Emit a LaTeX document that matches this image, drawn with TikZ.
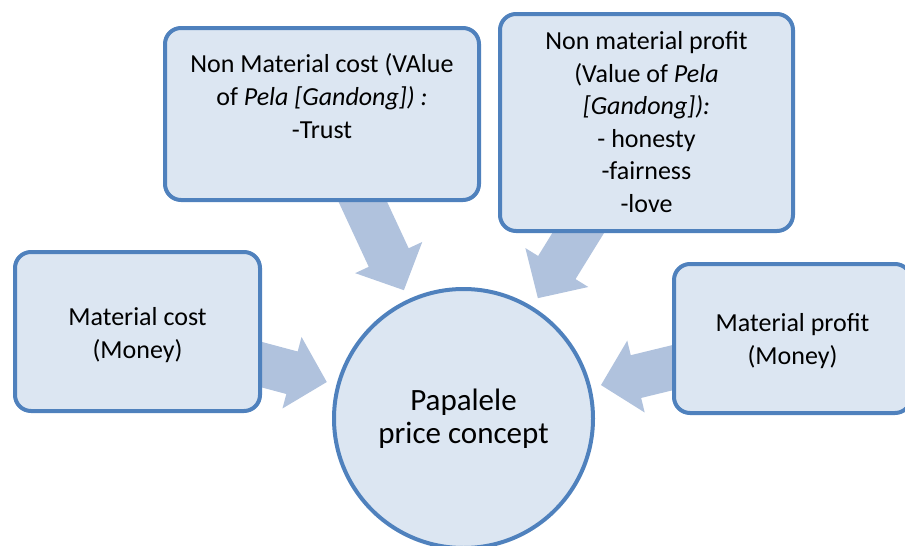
\documentclass[tikz,border=0pt]{standalone}
\usepackage{fontspec}
\setmainfont{Carlito}
\usetikzlibrary{calc,backgrounds}
\definecolor{boxfill}{HTML}{DCE6F2}
\definecolor{boxline}{HTML}{4F81BD}
\definecolor{arrowcol}{HTML}{B0C2DD}
\tikzset{
  box/.style={draw=boxline, fill=boxfill, line width=4pt, rounded corners=16pt, inner sep=0pt},
  hub/.style={circle, draw=boxline, fill=boxfill, line width=4pt, inner sep=0pt, minimum size=259pt,
    align=center, font=\fontsize{31}{33}\selectfont},
  boxtext/.style={align=center, font=\fontsize{26}{32.6}\selectfont, inner sep=0pt},
  arrowfill/.style={fill=arrowcol}
}
\newcommand\blockarrow[2]{%
  \coordinate (tip#1) at ($(#2.center)!141.5pt!(#1.center)$);
  \coordinate (base#1) at ($(#2.center)!177.5pt!(#1.center)$);
  \fill[arrowfill] (tip#1)
    -- ($(base#1)!37pt!90:(#1.center)$)
    -- ($(base#1)!22pt!90:(#1.center)$)
    -- ($(#1.center)!22pt!-90:(#2.center)$)
    -- ($(#1.center)!22pt!90:(#2.center)$)
    -- ($(base#1)!22pt!-90:(#1.center)$)
    -- ($(base#1)!37pt!-90:(#1.center)$)
    -- cycle;%
}
\begin{document}
\begin{tikzpicture}[x=1pt,y=-1pt]
  \useasboundingbox (0,0) rectangle (905,546);
  \clip (0,0) rectangle (905,546);
  % boxes
  \node[box, minimum width=314pt, minimum height=172pt] (A) at (322,114) {};
  \node[box, minimum width=293pt, minimum height=217pt] (B) at (646.5,122.5) {};
  \node[box, minimum width=245pt, minimum height=159pt] (C) at (137.5,331.5) {};
  \node[box, minimum width=237pt, minimum height=149pt] (D) at (792.5,338.5) {};
  \node[hub] (P) at (463.5,418.5) {Papalele\\price concept};
  % texts
  \node[boxtext] (At) at (322,96) {Non Material cost (VAlue\\of \textit{Pela [Gandong]) :}\\-Trust};
  \node[boxtext] (Bt) at (646.5,122) {Non material profit\\(Value of \textit{Pela}\\\textit{[Gandong]):}\\- honesty\\-fairness\\-love};
  \node[boxtext] (Ct) at (137.5,335) {Material cost\\(Money)};
  \node[boxtext] (Dt) at (792.5,341) {Material profit\\(Money)};
  % arrows
  \begin{pgfonlayer}{background}
    \blockarrow{A}{P}
    \blockarrow{B}{P}
    \blockarrow{C}{P}
    \blockarrow{D}{P}
  \end{pgfonlayer}
\end{tikzpicture}
\end{document}
